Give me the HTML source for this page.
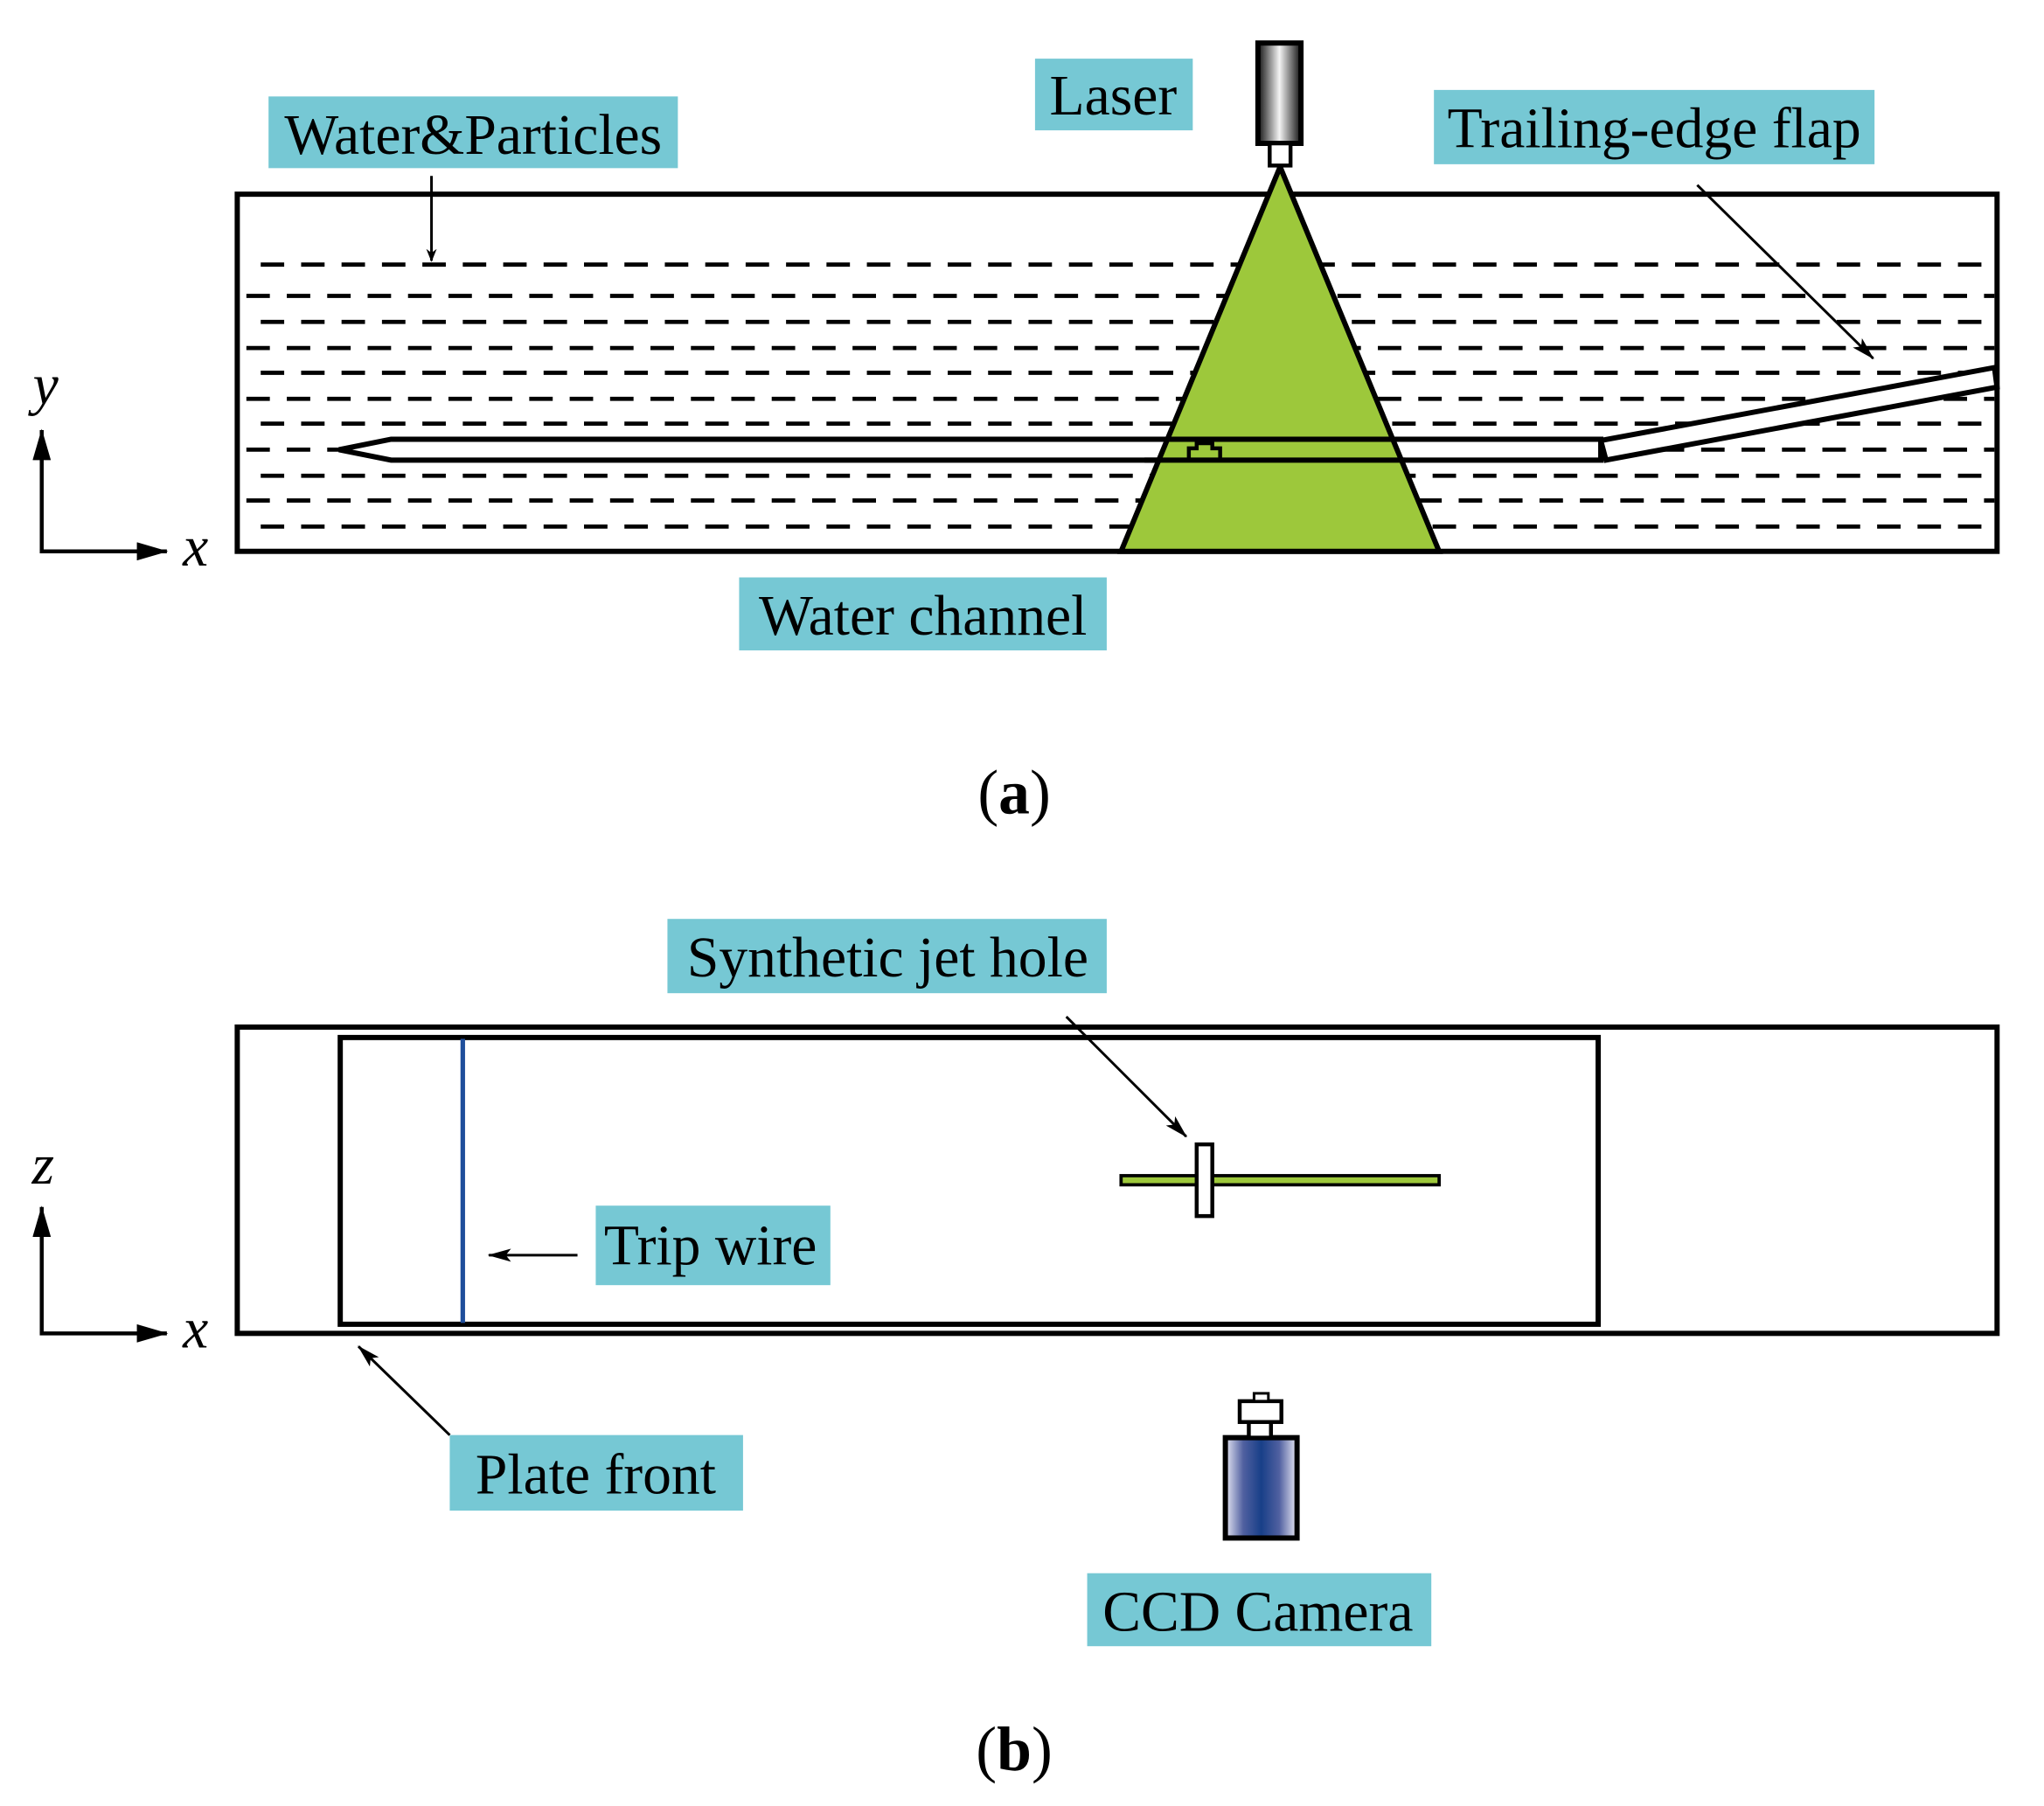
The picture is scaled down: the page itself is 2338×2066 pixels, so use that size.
<!DOCTYPE html>
<html><head><meta charset="utf-8"><style>html,body{margin:0;padding:0;background:#fff}svg{display:block}</style></head><body>
<svg width="2338" height="2066" viewBox="0 0 1568 1385.6" xmlns="http://www.w3.org/2000/svg" font-family="Liberation Serif, serif">
<defs>
<linearGradient id="lg" x1="0" x2="1" y1="0" y2="0"><stop offset="0" stop-color="#111"/><stop offset="0.5" stop-color="#f4f4f4"/><stop offset="1" stop-color="#111"/></linearGradient>
<linearGradient id="cg" x1="0" x2="1" y1="0" y2="0"><stop offset="0" stop-color="#e8e8f4"/><stop offset="0.25" stop-color="#5060a0"/><stop offset="0.5" stop-color="#183f88"/><stop offset="0.75" stop-color="#5060a0"/><stop offset="1" stop-color="#e8e8f4"/></linearGradient>
<marker id="ah" markerWidth="10" markerHeight="8" refX="9" refY="4" orient="auto" markerUnits="userSpaceOnUse"><path d="M0,0 L10,4 L0,8 L3,4 z" fill="#000"/></marker>
<marker id="ah2" markerWidth="18" markerHeight="10" refX="17" refY="5" orient="auto" markerUnits="userSpaceOnUse"><path d="M0,0 L18,5 L0,10 L4,5 z" fill="#000"/></marker>
<marker id="ah3" markerWidth="24" markerHeight="14" refX="23" refY="7" orient="auto" markerUnits="userSpaceOnUse"><path d="M0,0 L24,7 L0,14 z" fill="#000"/></marker>
</defs>
<!-- (a) -->
<rect x="182" y="149" width="1350" height="274" fill="#fff" stroke="#000" stroke-width="4"/>
<g stroke="#000" stroke-width="3.2" stroke-dasharray="18 13">
<line x1="200" y1="203" x2="1520" y2="203"/>
<line x1="184" y1="227" x2="1530" y2="227" stroke-dashoffset="-5"/>
<line x1="200" y1="247" x2="1520" y2="247"/>
<line x1="184" y1="267" x2="1530" y2="267" stroke-dashoffset="-5"/>
<line x1="200" y1="286" x2="1520" y2="286"/>
<line x1="184" y1="306" x2="1530" y2="306" stroke-dashoffset="-5"/>
<line x1="200" y1="325" x2="1520" y2="325"/>
<line x1="184" y1="345" x2="1530" y2="345" stroke-dashoffset="-5"/>
<line x1="200" y1="365" x2="1520" y2="365"/>
<line x1="184" y1="384" x2="1530" y2="384" stroke-dashoffset="-5"/>
<line x1="200" y1="404" x2="1520" y2="404"/>
</g>
<polygon points="260,345 300,337 1228,337 1228,353 300,353" fill="#fff" stroke="#000" stroke-width="4"/>
<polygon points="1228,338 1530,282 1532,297 1232,353" fill="#fff" stroke="#000" stroke-width="4"/>
<polygon points="982,128 860,423 1104,423" fill="#9dc83b" stroke="#000" stroke-width="4"/>
<line x1="884" y1="337" x2="1072" y2="337" stroke="#000" stroke-width="4"/>
<line x1="878" y1="353" x2="1078" y2="353" stroke="#000" stroke-width="4"/>
<path d="M912,352 V344 H918 V340 H930 V344 H936 V352" fill="none" stroke="#000" stroke-width="3"/>
<rect x="965" y="33" width="33" height="77" fill="url(#lg)" stroke="#000" stroke-width="4"/>
<rect x="974" y="110" width="16" height="17" fill="#fff" stroke="#000" stroke-width="3"/>
<rect x="206" y="74" width="314" height="55" fill="#76c8d4"/>
<text x="363" y="118" font-size="44" text-anchor="middle">Water&amp;Particles</text>
<rect x="794" y="45" width="121" height="55" fill="#76c8d4"/>
<text x="854" y="88" font-size="44" text-anchor="middle">Laser</text>
<rect x="1100" y="69" width="338" height="57" fill="#76c8d4"/>
<text x="1269" y="113" font-size="44" text-anchor="middle">Trailing-edge flap</text>
<rect x="567" y="443" width="282" height="56" fill="#76c8d4"/>
<text x="708" y="487" font-size="44" text-anchor="middle">Water channel</text>
<line x1="331" y1="135" x2="331" y2="200" stroke="#000" stroke-width="2" marker-end="url(#ah)"/>
<line x1="1302" y1="142" x2="1437" y2="275" stroke="#000" stroke-width="2" marker-end="url(#ah2)"/>
<line x1="32" y1="423" x2="32" y2="330" stroke="#000" stroke-width="3" marker-end="url(#ah3)"/>
<line x1="30.5" y1="423" x2="128" y2="423" stroke="#000" stroke-width="3" marker-end="url(#ah3)"/>
<text x="35" y="310" font-size="44" font-style="italic" text-anchor="middle">y</text>
<text x="150" y="434" font-size="44" font-style="italic" text-anchor="middle">x</text>
<text x="778" y="624" font-size="48" text-anchor="middle">(<tspan font-weight="bold">a</tspan>)</text>
<!-- (b) -->
<rect x="182" y="788" width="1350" height="235" fill="none" stroke="#000" stroke-width="4"/>
<rect x="261" y="796" width="965" height="220" fill="none" stroke="#000" stroke-width="4"/>
<line x1="355" y1="797" x2="355" y2="1015" stroke="#1f4e9b" stroke-width="3.5"/>
<rect x="860" y="902" width="244" height="7" fill="#9dc83b" stroke="#000" stroke-width="2.5"/>
<rect x="918" y="878" width="12" height="55" fill="#fff" stroke="#000" stroke-width="3"/>
<rect x="512" y="705" width="337" height="57" fill="#76c8d4"/>
<text x="681" y="749" font-size="44" text-anchor="middle">Synthetic jet hole</text>
<line x1="818" y1="780" x2="910" y2="872" stroke="#000" stroke-width="2" marker-end="url(#ah2)"/>
<rect x="457" y="925" width="180" height="61" fill="#76c8d4"/>
<text x="545" y="970" font-size="44" text-anchor="middle">Trip wire</text>
<line x1="443" y1="963" x2="375" y2="963" stroke="#000" stroke-width="2" marker-end="url(#ah2)"/>
<rect x="345" y="1101" width="225" height="58" fill="#76c8d4"/>
<text x="457" y="1146" font-size="44" text-anchor="middle">Plate front</text>
<line x1="345" y1="1101" x2="275" y2="1033" stroke="#000" stroke-width="2" marker-end="url(#ah2)"/>
<rect x="940" y="1103" width="55" height="77" fill="url(#cg)" stroke="#000" stroke-width="4"/>
<rect x="958" y="1090" width="17" height="13" fill="#fff" stroke="#000" stroke-width="3"/>
<rect x="951" y="1075" width="32" height="16" fill="#fff" stroke="#000" stroke-width="3"/>
<rect x="962" y="1069" width="11" height="6" fill="#fff" stroke="#000" stroke-width="2"/>
<rect x="834" y="1207" width="264" height="56" fill="#76c8d4"/>
<text x="965" y="1251" font-size="44" text-anchor="middle">CCD Camera</text>
<line x1="32" y1="1023" x2="32" y2="926" stroke="#000" stroke-width="3" marker-end="url(#ah3)"/>
<line x1="30.5" y1="1023" x2="128" y2="1023" stroke="#000" stroke-width="3" marker-end="url(#ah3)"/>
<text x="33" y="908" font-size="44" font-style="italic" text-anchor="middle">z</text>
<text x="150" y="1034" font-size="44" font-style="italic" text-anchor="middle">x</text>
<text x="778" y="1358" font-size="48" text-anchor="middle">(<tspan font-weight="bold">b</tspan>)</text>
</svg>
</body></html>
